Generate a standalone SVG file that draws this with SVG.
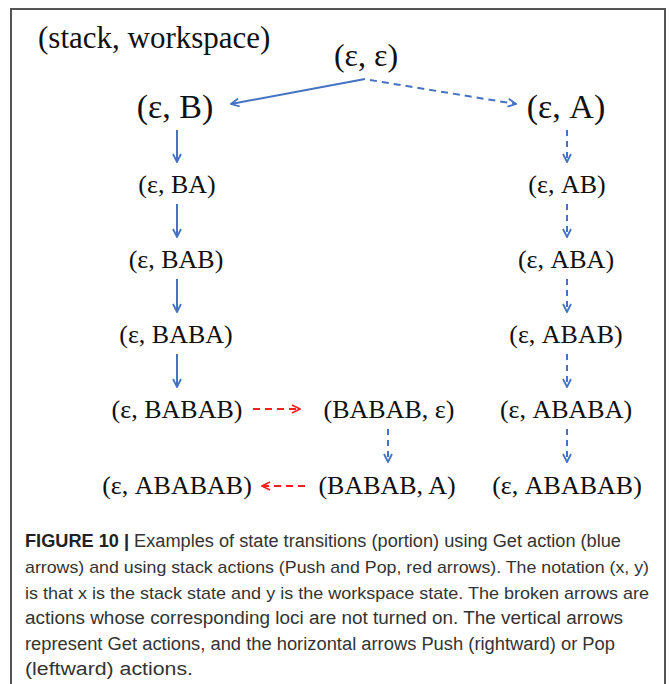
<svg xmlns="http://www.w3.org/2000/svg" width="669" height="684" viewBox="0 0 669 684">
<style>
.t{font-family:"Liberation Sans",Arial,sans-serif;}
.t{font-family:"Liberation Serif","Times New Roman",serif;fill:#111;text-anchor:middle}
.big{font-size:34px}
.mid{font-size:26px}
.cap{font-family:"Liberation Sans",Arial,sans-serif;font-size:18px;fill:#333}
.b{stroke:#4472c4;stroke-width:2;fill:none}
.r{stroke:#ff2020;stroke-width:2;fill:none}
.d{stroke-dasharray:7,5}
.dv{stroke-dasharray:6,5}
</style>
<defs>
<marker id="ab" viewBox="0 0 10 10" refX="9" refY="5" markerWidth="10" markerHeight="10" markerUnits="userSpaceOnUse" orient="auto">
<path d="M1,1 L9,5 L1,9" fill="none" stroke="#4472c4" stroke-width="1.8"/>
</marker>
<marker id="ar" viewBox="0 0 10 10" refX="9" refY="5" markerWidth="10" markerHeight="10" markerUnits="userSpaceOnUse" orient="auto">
<path d="M1,1 L9,5 L1,9" fill="none" stroke="#ff2020" stroke-width="1.8"/>
</marker>
</defs>
<rect x="0" y="0" width="669" height="684" fill="#fff"/>
<path d="M11,700 L11,9 L665,9 L665,700" fill="none" stroke="#555" stroke-width="2"/>
<text x="38" y="48" class="t" style="font-size:31px;text-anchor:start">(stack, workspace)</text>
<g id="connectors">
<line x1="365" y1="79" x2="231" y2="104" class="b" marker-end="url(#ab)"/>
<line x1="370" y1="80" x2="516" y2="104" class="b d" marker-end="url(#ab)"/>
<line x1="177" y1="130" x2="177" y2="162" class="b" marker-end="url(#ab)"/>
<line x1="177" y1="204" x2="177" y2="237" class="b" marker-end="url(#ab)"/>
<line x1="177" y1="279" x2="177" y2="312" class="b" marker-end="url(#ab)"/>
<line x1="177" y1="354" x2="177" y2="387" class="b" marker-end="url(#ab)"/>
<line x1="567" y1="130" x2="567" y2="162" class="b dv" marker-end="url(#ab)"/>
<line x1="567" y1="204" x2="567" y2="237" class="b dv" marker-end="url(#ab)"/>
<line x1="567" y1="279" x2="567" y2="312" class="b dv" marker-end="url(#ab)"/>
<line x1="567" y1="354" x2="567" y2="387" class="b dv" marker-end="url(#ab)"/>
<line x1="567" y1="429" x2="567" y2="462" class="b dv" marker-end="url(#ab)"/>
<line x1="388" y1="429" x2="388" y2="462" class="b dv" marker-end="url(#ab)"/>
<line x1="253" y1="409" x2="300" y2="409" class="r d" marker-end="url(#ar)"/>
<line x1="305" y1="486" x2="262" y2="486" class="r d" marker-end="url(#ar)"/>
</g>
<g id="n_ee"><text x="366" y="66" class="t" style="font-size:32px">(ε, ε)</text></g>
<g id="n_eB"><text x="175" y="118" class="t big">(ε, B)</text></g>
<g id="n_eA"><text x="566" y="118" class="t big">(ε, A)</text></g>
<g id="n_eBA"><text x="177" y="193" class="t mid">(ε, BA)</text></g>
<g id="n_eBAB"><text x="176" y="268" class="t mid">(ε, BAB)</text></g>
<g id="n_eBABA"><text x="176" y="343" class="t mid">(ε, BABA)</text></g>
<g id="n_eBABAB"><text x="177" y="418" class="t mid">(ε, BABAB)</text></g>
<g id="n_eABABAB_l"><text x="177" y="494" class="t mid">(ε, ABABAB)</text></g>
<g id="n_BABABe"><text x="389" y="418" class="t mid">(BABAB, ε)</text></g>
<g id="n_BABABA"><text x="387" y="494" class="t mid">(BABAB, A)</text></g>
<g id="n_eAB"><text x="567" y="193" class="t mid">(ε, AB)</text></g>
<g id="n_eABA"><text x="566" y="268" class="t mid">(ε, ABA)</text></g>
<g id="n_eABAB"><text x="566" y="343" class="t mid">(ε, ABAB)</text></g>
<g id="n_eABABA"><text x="566" y="418" class="t mid">(ε, ABABA)</text></g>
<g id="n_eABABAB_r"><text x="567" y="494" class="t mid">(ε, ABABAB)</text></g>
<g id="caption" class="cap">
<text x="25" y="547" textLength="596" lengthAdjust="spacingAndGlyphs"><tspan font-weight="bold" fill="#222">FIGURE 10 |</tspan> Examples of state transitions (portion) using Get action (blue</text>
<text x="25" y="573" textLength="624" lengthAdjust="spacingAndGlyphs" style="font-size:17px">arrows) and using stack actions (Push and Pop, red arrows). The notation (x, y)</text>
<text x="25" y="599" textLength="624" lengthAdjust="spacingAndGlyphs" style="font-size:17px">is that x is the stack state and y is the workspace state. The broken arrows are</text>
<text x="25" y="624" textLength="598" lengthAdjust="spacingAndGlyphs">actions whose corresponding loci are not turned on. The vertical arrows</text>
<text x="25" y="650" textLength="590" lengthAdjust="spacingAndGlyphs">represent Get actions, and the horizontal arrows Push (rightward) or Pop</text>
<text x="25" y="675" textLength="168" lengthAdjust="spacingAndGlyphs">(leftward) actions.</text>
</g>
</svg>
